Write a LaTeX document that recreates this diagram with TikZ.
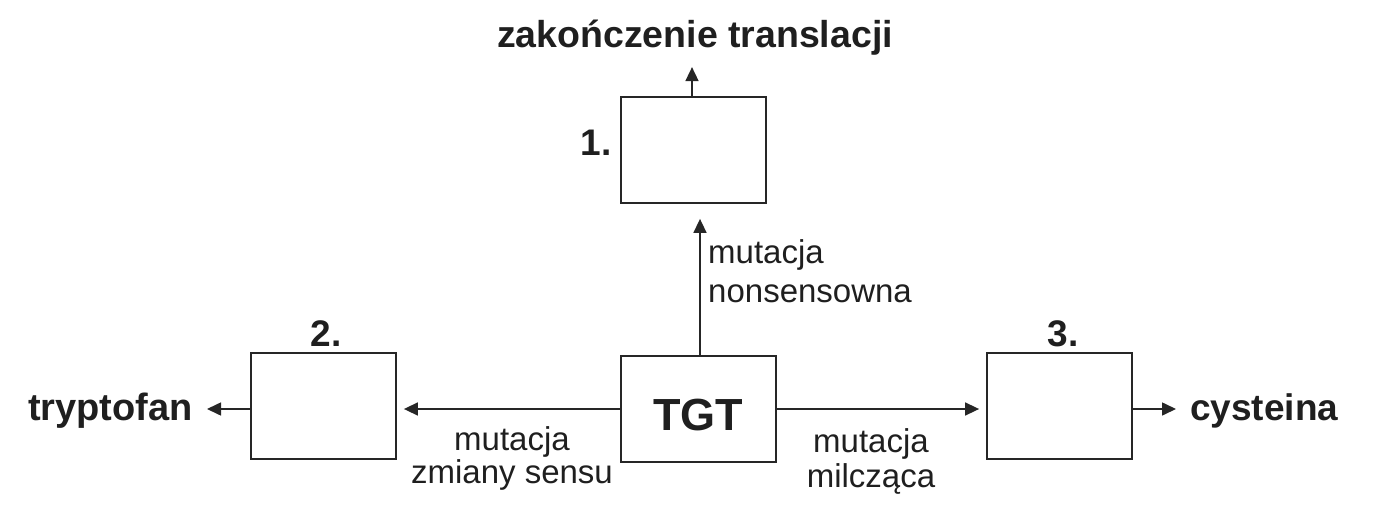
\documentclass[tikz,border=0pt]{standalone}
\usepackage{fontspec}
\setmainfont{Liberation Sans}
\usetikzlibrary{arrows.meta,calc}
\begin{document}
\begin{tikzpicture}[x=1pt,y=-1pt,
  box/.style={draw=black!85,line width=1.8pt,minimum width=145pt,minimum height=106pt,inner sep=0pt},
  arr/.style={line width=1.6pt,draw=black!85,-{Triangle[length=14pt,width=13pt]}},
  big/.style={inner sep=0pt,font=\bfseries\fontsize{38}{44}\selectfont,text=black!88},
  num/.style={inner sep=0pt,font=\bfseries\fontsize{37}{42}\selectfont,text=black!88},
  lab/.style={inner sep=0pt,align=center,text=black!88},
]
\useasboundingbox (0,0) rectangle (1400,511);
% boxes
\node[box] (b1) at (693.5,150) {};
\node[box] (b2) at (323.5,406) {};
\node[box] (b3) at (1059.5,406) {};
\node[box,minimum width=155pt] (tgt) at (698.5,409) {};
\node[inner sep=0pt,anchor=base,font=\bfseries\fontsize{45}{50}\selectfont,text=black!88] (tgttxt) at (698,430) {TGT};
% numbers
\node[num,anchor=base east] (n1) at (612,155) {1.};
\node[num,anchor=base] (n2) at (326,346) {2.};
\node[num,anchor=base] (n3) at (1063,346) {3.};
% outer labels
\node[big,font=\bfseries\fontsize{37.5}{44}\selectfont,anchor=base] (title) at (695,48) {zakończenie translacji};
\node[big,anchor=base east] (tryp) at (193,420) {tryptofan};
\node[big,font=\bfseries\fontsize{37}{44}\selectfont,anchor=base west] (cys) at (1190,420) {cysteina};
% mutation labels (base anchor = last line)
\node[lab,align=left,anchor=base west,font=\fontsize{33}{39}\selectfont] (lnon) at (708,302) {mutacja\\nonsensowna};
\node[lab,anchor=base,font=\fontsize{33}{33}\selectfont] (lzm) at (512,483) {mutacja\\zmiany sensu};
\node[lab,anchor=base,font=\fontsize{33}{35}\selectfont] (lmil) at (871,487) {mutacja\\milcząca};
% connectors
\coordinate (t1) at ($(b1.north)+(-1.5,-29)$);
\draw[arr] (b1.north -| t1) -- (t1);
\draw[arr,shorten >=15pt] (tgt.north -| 700,0) -- (b1.south -| 700,0);
\draw[arr,shorten >=7pt] (tgt.west) -- (tgt.west -| b2.east);
\draw[arr,shorten >=7pt] (tgt.east) -- (tgt.east -| b3.west);
\draw[arr,shorten >=14pt] (tgt.west -| b2.west) -- (tgt.west -| tryp.east);
\draw[arr,shorten >=14pt] (tgt.east -| b3.east) -- (tgt.east -| cys.west);
\end{tikzpicture}
\end{document}
